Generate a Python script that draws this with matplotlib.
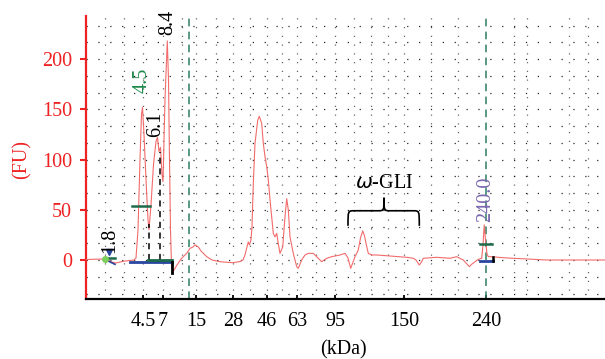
import numpy as np
import matplotlib.pyplot as plt
from matplotlib.path import Path
from matplotlib.patches import PathPatch

# Electropherogram trace: (migration position, fluorescence FU)
trace_pts = [
    (0, 0.5), (9, 0.8), (18, 1), (22, 0), (26, -2), (30, -3), (34, -2), (39, -1),
    (44, -0.5), (48, 0), (50, 2), (52, 30), (54, 100), (55.5, 145), (56.5, 152),
    (58, 125), (60, 80), (62, 40), (63, 30), (65, 55), (67.5, 95), (70, 118),
    (71.5, 122), (73, 108), (74.5, 112), (76, 85), (77, 78), (78, 120), (79, 160),
    (80.7, 202), (81.3, 218), (82.5, 180), (83.5, 100), (84.5, 30), (85.5, -5),
    (86.3, -13), (88, -10), (91, -5), (95, 1), (101, 7), (104, 11.6), (107, 13),
    (109, 15), (110.5, 14), (112.3, 13), (115, 9), (120.7, 3.3), (126, 0),
    (134, -1.7), (147, -2.7), (154, -1.5), (157, 0), (159, 5), (160.7, 12),
    (162.3, 18), (163.5, 15), (165, 20), (166, 33), (167.3, 76), (169, 116),
    (171.7, 139), (173.3, 143), (175.7, 136), (177.3, 116), (179, 103), (180.7, 93),
    (182.3, 80), (184, 60), (185.7, 43), (187.3, 26.5), (189, 23), (190.7, 26.5),
    (192.5, 15), (194, 6.6), (196.7, 13), (199, 43), (200.7, 61), (202.3, 50),
    (204, 23), (207.3, 6.6), (210.7, -6.6), (212.3, -8.3), (215.7, 0), (219, 5),
    (222.3, 6.6), (227.3, 6.6), (232, 2), (235.7, -1.7), (240.7, 1.7), (245.7, 3.3),
    (254, 5), (259, 6.6), (262, 2), (264.7, -8.3), (267, -2), (269, 3.3),
    (272.3, 10), (274.5, 22), (276.7, 29), (278.5, 24), (280, 16.6), (282.3, 6.6),
    (286, 5), (290.7, 5), (304, 4), (320.7, 2.7), (327.3, 1.7), (330, 0),
    (333.3, -5), (335.5, -2), (337.3, 1.7), (350.7, 2.7), (364, 1.7), (370.7, 3.3),
    (377.3, 0), (380, -3), (383.3, -6.6), (386, -4), (389, -1.7), (392, 0.5),
    (395.7, 1.7), (397, 15), (398.2, 35), (399.5, 20), (401, 6), (402.3, 3.3),
    (407.3, 3.3), (414, 2.5), (427.3, 1.7), (460.7, 0), (519, 0),
]
trace_x = [p[0] for p in trace_pts]
trace_y = [p[1] for p in trace_pts]

# kDa ladder tick positions and labels
ladder_pos = [57, 77, 110, 147, 181, 211, 249, 318, 400]
ladder_kda = ['4.5', '7', '15', '28', '46', '63', '95', '150', '240']
y_ticks = [0, 50, 100, 150, 200]

# peak annotations
peak_labels = ['1.8', '4.5', '6.1', '8.4', '240.0']
peak_pos = [24, 56, 70, 81.5, 400]
peak_text_y = [20, 179, 135, 236, 60]
peak_colors = ['black', '#1f8a4c', 'black', 'black', '#7b68b0']

FS = 14.5
SERIF = 'Liberation Serif'

fig = plt.figure(figsize=(6.05, 3.59), dpi=100)
ax = fig.add_axes([86 / 605, 60 / 359, 519 / 605, 283 / 359])
ax.set_xlim(0, 519)
ax.set_ylim(-38.8, 242.8)

# dotted background grid
for gy in np.arange(-2, 15) * 50 / 3:
    ax.axhline(gy, color='black', lw=0.9, ls=(0, (1, 8.5)), alpha=0.85, zorder=0)
for gx in [19, 38, 57, 77, 96, 110, 130, 147, 164, 181, 196, 211, 230, 249, 268,
           285, 302, 318, 345, 372, 428, 441, 483, 502]:
    ax.axvline(gx, color='black', lw=0.9, ls=(0, (1, 6)), alpha=0.6, zorder=0)

ax.plot(trace_x, trace_y, color='#f26b6b', lw=0.8, zorder=3)

# markers
dark_green = '#1d6b4a'
blue = '#2845a0'
ax.axvline(103, color='#2d7d5f', lw=1.1, ls=(0, (5, 3.5)), zorder=2)
ax.axvline(400, color='#2d7d5f', lw=1.1, ls=(0, (5, 3.5)), zorder=2)
ax.plot([44, 86.3], [-2.3, -2.3], color=blue, lw=2, zorder=4)
ax.plot([62, 86], [0, 0], color=dark_green, lw=2, zorder=5)
ax.plot([86.3, 86.3], [-1.5, -13], color='black', lw=2, zorder=5)
ax.plot([46, 63.7], [54, 54], color=dark_green, lw=1.8, zorder=4)
ax.plot([63, 63], [0, 36], color='black', lw=1.1, ls=(0, (4, 3)), zorder=4)
ax.plot([73.5, 73.5], [0, 107], color='black', lw=1.1, ls=(0, (4, 3)), zorder=4)
ax.plot([18, 29], [1.5, 1.5], color=dark_green, lw=1.8, zorder=4)
ax.plot([19, 29], [0.5, -4.3], color=blue, lw=1.2, zorder=4)
ax.plot(23, 8, marker='v', color=blue, ms=4.5, zorder=5)
ax.plot(18.5, 0.7, marker='o', color='#7ccf5a', ms=4, zorder=6)
ax.plot([394, 406], [16, 16], color=dark_green, lw=1.8, zorder=4)
ax.plot([394, 407], [-0.5, -0.5], color=blue, lw=2, zorder=4)
ax.plot([407, 407], [-0.5, 3], color='black', lw=1.8, zorder=5)

for lab, px, ty, c in zip(peak_labels, peak_pos, peak_text_y, peak_colors):
    ax.text(px, ty, lab, rotation=90, ha='center', va='center', color=c,
            fontsize=FS, family=SERIF, zorder=6)

# omega-GLI brace
x0, x1, xm = 262, 333.3, 298
y0, y1, y2 = 34, 49, 62
verts = [(x0, y0), (x0, y1), (x0, y1), (x0 + 6, y1), (xm - 6, y1),
         (xm, y1), (xm, y1), (xm, y2),
         (xm, y1), (xm, y1), (xm + 6, y1), (x1 - 6, y1),
         (x1, y1), (x1, y1), (x1, y0)]
codes = [Path.MOVETO, Path.CURVE4, Path.CURVE4, Path.CURVE4, Path.LINETO,
         Path.CURVE4, Path.CURVE4, Path.CURVE4,
         Path.CURVE4, Path.CURVE4, Path.CURVE4, Path.LINETO,
         Path.CURVE4, Path.CURVE4, Path.CURVE4]
ax.add_patch(PathPatch(Path(verts, codes), fill=False, color='black', lw=1.2, zorder=5))
ax.text(xm, 76, r'$\omega$-GLI', ha='center', va='center', fontsize=FS,
        family=SERIF, zorder=6)

# axes styling
for s in ['top', 'right']:
    ax.spines[s].set_visible(False)
ax.spines['left'].set_color('#ee2222')
ax.spines['left'].set_linewidth(1.6)
ax.spines['bottom'].set_linewidth(1.6)
ax.set_yticks(y_ticks)
ax.set_yticklabels([str(v) for v in y_ticks], color='#ee2222', fontsize=FS,
                   family=SERIF)
ax.tick_params(axis='y', colors='#ee2222', length=4, width=1.5, pad=6)
ax.set_xticks(ladder_pos)
ax.set_xticklabels(ladder_kda, fontsize=FS, family=SERIF)
ax.tick_params(axis='x', direction='in', length=3, width=1.3, pad=9)

fig.text(22 / 605, 1 - 160 / 359, '(FU)', rotation=90, ha='center', va='center',
         color='#ee2222', fontsize=FS, family=SERIF)
fig.text(343 / 605, 1 - 350 / 359, '(kDa)', ha='center', va='center',
         fontsize=FS, family=SERIF)

fig.savefig('out.png', dpi=100)
